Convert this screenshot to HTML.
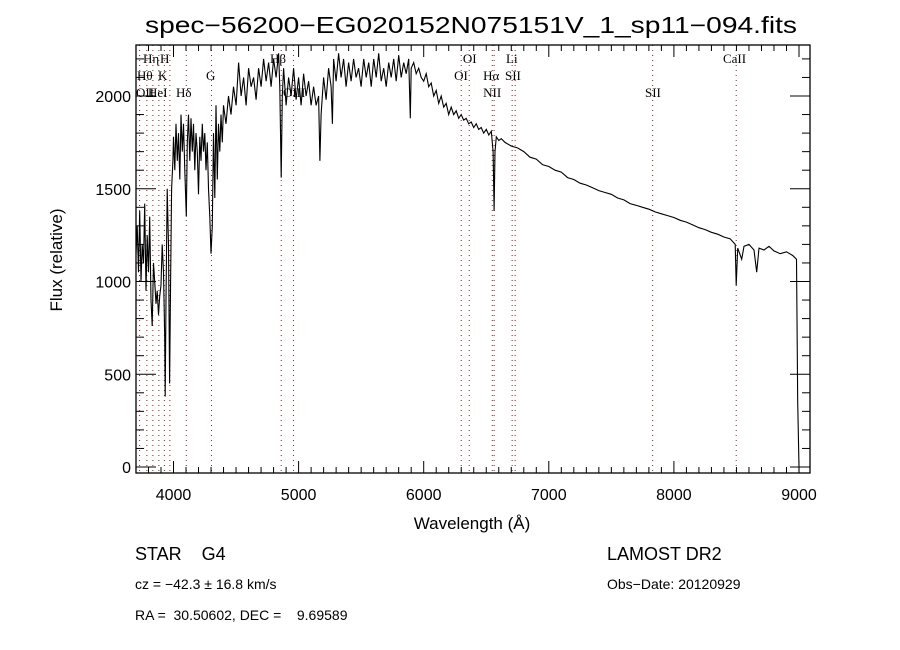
<!DOCTYPE html>
<html><head><meta charset="utf-8"><style>
html,body{margin:0;padding:0;background:#fff;}
svg{display:block;font-family:"Liberation Sans",sans-serif;}
.ser{font-family:"Liberation Serif",serif;}
</style></head><body>
<svg id="chart" width="900" height="650" viewBox="0 0 900 650" xmlns="http://www.w3.org/2000/svg">
<rect width="900" height="650" fill="#fff"/>
<text x="471" y="33" font-size="23" text-anchor="middle" textLength="652" lengthAdjust="spacingAndGlyphs">spec−56200−EG020152N075151V_1_sp11−094.fits</text>
<g id="lines"></g>
<g id="labels" class="ser" font-size="13"></g>
<path id="spec" fill="none" stroke="#000" stroke-width="1.1"/>
<g id="axes"></g>
<text x="472" y="529" font-size="17" text-anchor="middle">Wavelength (Å)</text>
<text transform="translate(62,260) rotate(-90)" font-size="17" text-anchor="middle">Flux (relative)</text>
<text x="135" y="560" font-size="18" xml:space="preserve">STAR    G4</text>
<text x="607" y="560" font-size="18">LAMOST DR2</text>
<text x="135" y="589" font-size="14">cz = −42.3 ± 16.8 km/s</text>
<text x="607" y="589" font-size="14">Obs−Date: 20120929</text>
<text x="135" y="620" font-size="14" xml:space="preserve">RA =  30.50602, DEC =    9.69589</text>
</svg>
<script>
const wl = [3700,3710,3720,3730,3740,3750,3760,3770,3780,3790,3800,3810,3820,3830,3840,3850,3860,3870,3880,3890,3900,3910,3920,3930,3934,3940,3950,3960,3969,3975,3985,3995,4000,4010,4020,4030,4040,4050,4060,4070,4080,4090,4102,4110,4120,4130,4140,4150,4160,4170,4180,4190,4200,4210,4220,4230,4240,4250,4260,4270,4280,4290,4300,4310,4320,4330,4340,4350,4360,4370,4380,4390,4400,4420,4440,4460,4480,4500,4520,4540,4560,4580,4600,4620,4640,4660,4680,4700,4720,4740,4760,4780,4800,4820,4840,4850,4861,4870,4880,4900,4920,4940,4960,4980,5000,5020,5040,5060,5080,5100,5120,5140,5160,5170,5180,5200,5220,5240,5260,5270,5280,5300,5320,5340,5360,5380,5400,5420,5440,5460,5480,5500,5520,5540,5560,5580,5600,5620,5640,5660,5680,5700,5720,5740,5760,5780,5800,5820,5840,5860,5880,5893,5900,5920,5940,5960,5980,6000,6020,6040,6060,6080,6100,6120,6140,6160,6180,6200,6220,6240,6260,6280,6300,6320,6340,6360,6380,6400,6420,6440,6460,6480,6500,6520,6540,6555,6563,6570,6580,6600,6620,6650,6700,6750,6800,6850,6900,6950,7000,7050,7100,7150,7200,7250,7300,7350,7400,7450,7500,7550,7600,7650,7700,7750,7800,7850,7900,7950,8000,8050,8100,8150,8200,8250,8300,8350,8400,8450,8490,8498,8510,8542,8560,8600,8640,8662,8680,8720,8760,8800,8850,8900,8950,8980,8990,9000];
const flux = [1150,1300,1050,1380,1000,1200,1100,1420,950,1250,1050,1350,900,760,1100,1000,880,950,820,920,980,1200,1050,700,380,900,1500,1200,450,900,1500,1650,1780,1600,1850,1650,1800,1550,1900,1700,1850,1600,1350,1750,1900,1650,1880,1700,1850,1600,1800,1700,1470,1780,1650,1850,1700,1800,1600,1750,1500,1350,1150,1300,1800,1450,1950,1550,1850,1700,1900,1750,1950,1850,2000,1900,2050,1950,2180,2000,2100,1950,2150,2050,2100,1980,2150,2050,2200,2080,2180,2050,2200,2100,2230,2050,1560,2000,2150,1950,2100,2000,2150,1980,2100,1950,2120,2000,2080,1950,2050,1950,2000,1650,1900,2100,1980,2150,2050,1850,2200,2080,2230,2100,2200,2050,2180,2080,2200,2100,2150,2050,2200,2100,2180,2050,2200,2100,2230,2080,2150,2050,2180,2100,2200,2080,2220,2100,2180,2120,2200,1880,2150,2180,2120,2150,2100,2080,2120,2050,2070,2000,2030,1960,2000,1940,1960,1900,1940,1900,1920,1880,1900,1870,1880,1850,1860,1830,1850,1820,1830,1800,1820,1790,1810,1700,1380,1700,1780,1760,1770,1750,1730,1720,1700,1670,1660,1630,1620,1600,1590,1560,1550,1530,1520,1505,1490,1480,1470,1450,1440,1420,1410,1400,1390,1375,1365,1355,1345,1330,1320,1305,1290,1280,1265,1255,1240,1230,1200,980,1180,1120,1190,1200,1170,1050,1180,1170,1190,1165,1150,1160,1140,1120,350,0];
const xTicks = [4000,5000,6000,7000,8000,9000];
const yTicks = [0,500,1000,1500,2000];
const lineWl = [3729,3787,3835,3883,3927,3971,4102,4304,4861,4959,6300,6364,6548,6563,6707,6731,7830,8498];
const labelText = ["Hη","H","Hθ","K","OII","HeI","Hδ","G","Hβ","OIII","OI","OI","Hα","NII","Li","SII","SII","CaII"];
const labelWl = [3756,3892,3708,3876,3700,3796,4020,4260,4771,4875,6313,6243,6475,6475,6658,6650,7769,8392];
const labelRow = [0,0,1,1,2,2,2,1,0,2,0,1,1,2,0,1,2,0];

const X0=136,X1=810,Y0=45,Y1=473;
const xs = w => 173.5 + (w-4000)*0.1251;
const ys = v => 467 - v*0.1855;
const NS="http://www.w3.org/2000/svg";
function mk(tag,attrs,parent){const e=document.createElementNS(NS,tag);for(const k in attrs)e.setAttribute(k,attrs[k]);parent.appendChild(e);return e;}

const lg=document.getElementById('lines');
lineWl.forEach(w=>{
  const l=mk('line',{x1:xs(w),x2:xs(w),y1:Y0,y2:Y1,stroke:'#8b2020','stroke-width':1,'stroke-dasharray':'1,4'},lg);
  
  
});
const lb=document.getElementById('labels');
labelText.forEach((t,i)=>{
  const e=mk('text',{x:xs(labelWl[i]),y:63+labelRow[i]*17},lb);
  e.textContent=t;
  
  
});

let d='';
wl.forEach((w,i)=>{d+=(i?'L':'M')+xs(w).toFixed(1)+','+Math.min(Y1,ys(flux[i])).toFixed(1);});
d+='L'+xs(9000).toFixed(1)+','+Y1;
document.getElementById('spec').setAttribute('d',d);

const ax=document.getElementById('axes');
mk('rect',{x:X0,y:Y0,width:X1-X0,height:Y1-Y0,fill:'none',stroke:'#000','stroke-width':1.3},ax);
for(let w=3700;w<=9080;w+=100){
  const major=w%1000===0;
  const len=major?12:6;
  mk('line',{x1:xs(w),x2:xs(w),y1:Y1,y2:Y1-len,stroke:'#000'},ax);
  mk('line',{x1:xs(w),x2:xs(w),y1:Y0,y2:Y0+len,stroke:'#000'},ax);
}
for(let v=0;v<=2200;v+=100){
  const major=v%500===0;
  const len=major?20:8;
  mk('line',{x1:X0,x2:X0+len,y1:ys(v),y2:ys(v),stroke:'#000'},ax);
  mk('line',{x1:X1,x2:X1-len,y1:ys(v),y2:ys(v),stroke:'#000'},ax);
}
xTicks.forEach(w=>{
  const t=mk('text',{x:xs(w),y:500,'font-size':16,'text-anchor':'middle'},ax);
  t.textContent=w;
  
  
});
yTicks.forEach(v=>{
  const t=mk('text',{x:131,y:ys(v)+6,'font-size':16,'text-anchor':'end'},ax);
  t.textContent=v;
  
  
});
</script>
</body></html>
